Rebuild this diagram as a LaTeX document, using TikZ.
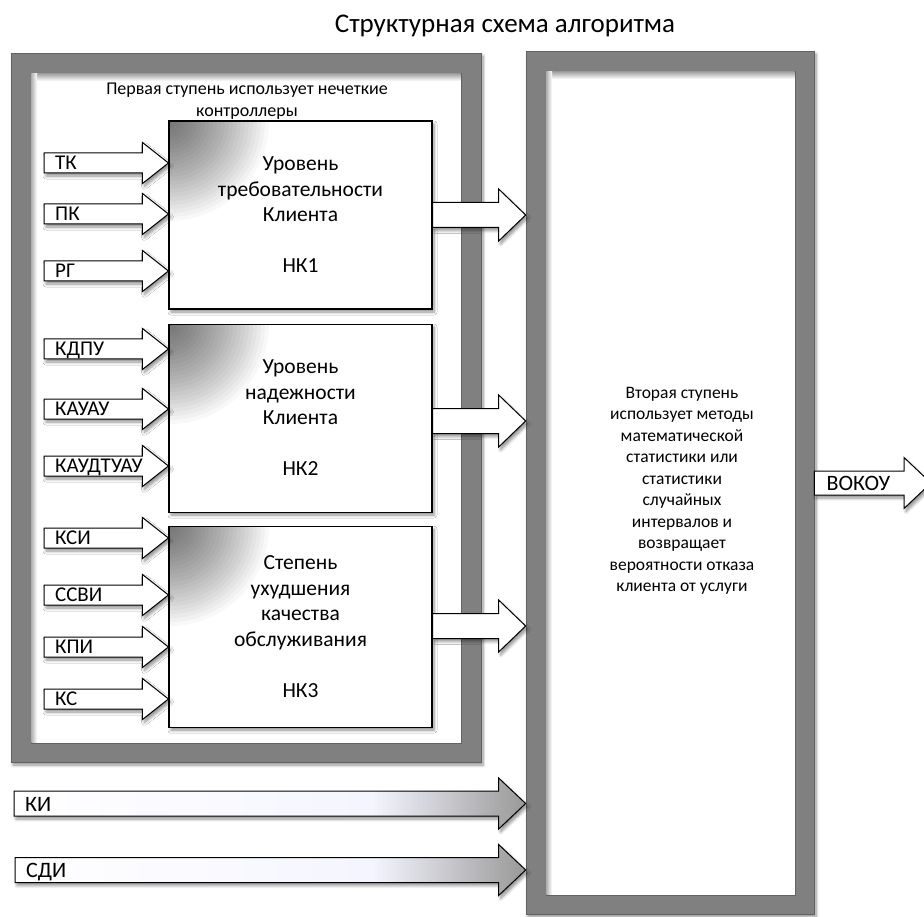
\documentclass[tikz,border=0pt]{standalone}
\usepackage{fontspec}
\setmainfont{Carlito}
\usepackage{tikz}
\usetikzlibrary{positioning,calc,shadows.blur}

\definecolor{framegray}{RGB}{128,128,128}
\definecolor{frameedge}{RGB}{98,98,98}
\pgfdeclarehorizontalshading{headfade}{100bp}{color(0bp)=(white); color(25bp)=(white); color(60bp)=(blue!4!white); color(75bp)=(black!40); color(100bp)=(black!40)}

% block arrow: [style]{from}{to}{shaft half}{head half}{head length}
\newcommand{\fatarrow}[6][]{%
  \path[#1] let \p1=(#2), \p2=(#3) in
    (\x1,\y1+#4pt) -- (\x2-#6pt,\y1+#4pt) -- (\x2-#6pt,\y1+#5pt) -- (\x2,\y1)
    -- (\x2-#6pt,\y1-#5pt) -- (\x2-#6pt,\y1-#4pt) -- (\x1,\y1-#4pt) -- cycle;}

\begin{document}
\begin{tikzpicture}[x=1pt, y=-1pt,
    softshadow/.style={blur shadow={shadow xshift=2pt, shadow yshift=-3pt, shadow blur radius=3pt, shadow blur steps=6, shadow opacity=45}},
    frame/.style={draw=frameedge, line width=0.7pt, fill=framegray, inner sep=0pt, softshadow},
    hole/.style={draw=frameedge, line width=0.7pt, fill=white, inner sep=0pt},
    nkbox/.style={draw=black, line width=1.1pt, fill=white, inner sep=0pt,
      path picture={\foreach \r in {100,96,...,4}
        \fill[black, opacity=0.028] (path picture bounding box.north west) circle (\r pt);},
      minimum width=263pt, align=center, font=\fontsize{21.5}{25.5}\selectfont, softshadow},
    fatarrow/.style={draw=black, line width=1pt, fill=white, softshadow},
    longarrow/.style={fatarrow, shade, shading=headfade},
    lbl/.style={inner sep=0pt, anchor=base west, font=\fontsize{21}{24}\selectfont},
    biglbl/.style={lbl, font=\fontsize{22}{26}\selectfont}]
    \useasboundingbox (0,0) rectangle (924,917);

    % frames of the two stages
    \node[frame, minimum width=470pt, minimum height=709pt] (st1) at (246,407.5) {};
    \node[hole, minimum width=430pt, minimum height=670pt] (st1in) at (246,408) {};
    \node[frame, minimum width=288pt, minimum height=863pt] (st2) at (670,482.5) {};
    \node[hole, minimum width=249pt, minimum height=824pt] (st2in) at (670.5,483) {};
    \shade[top color=black!38, bottom color=white] (31.4,73.4) rectangle (460.6,81);
    \shade[left color=black!30, right color=white] (31.4,73.4) rectangle (37,742.6);
    \shade[top color=black!38, bottom color=white] (546.4,71.4) rectangle (794.6,79);
    \shade[left color=black!30, right color=white] (546.4,71.4) rectangle (552,894.6);

    \node[font=\fontsize{27}{32}\selectfont, anchor=base] (title) at (505,33) {Структурная схема алгоритма};
    \node[font=\fontsize{18}{22}\selectfont, align=center] (st1cap) at (247,101.5) {Первая ступень использует нечеткие\\контроллеры};
    \node[font=\fontsize{17.5}{21.5}\selectfont, align=center] (st2txt) at (682,491) {Вторая ступень\\использует методы\\математической\\статистики или\\статистики\\случайных\\интервалов и\\возвращает\\вероятности отказа\\клиента от услуги};

    % fuzzy controllers
    \node[nkbox, minimum height=188pt] (nk1) at (300.5,215) {Уровень\\требовательности\\Клиента\\\\НК1};
    \node[nkbox, minimum height=188pt, below=14pt of nk1] (nk2) {Уровень\\надежности\\Клиента\\\\НК2};
    \node[nkbox, minimum height=201pt, below=13pt of nk2] (nk3) {Степень\\ухудшения\\качества\\обслуживания\\\\НК3};

    % inputs
    \coordinate (tk-s) at (44,163);
    \coordinate (pk-s) at (44,214);
    \coordinate (rg-s) at (44,271);
    \coordinate (kdpu-s) at (44,349);
    \coordinate (kauau-s) at (44,409);
    \coordinate (kaudt-s) at (44,466);
    \coordinate (ksi-s) at (44,538);
    \coordinate (ssvi-s) at (44,595);
    \coordinate (kpi-s) at (44,647);
    \coordinate (ks-s) at (44,699);
    \fatarrow[fatarrow]{tk-s}{nk1.west |- tk-s}{10}{20.5}{26}
    \fatarrow[fatarrow]{pk-s}{nk1.west |- pk-s}{10}{20.5}{26}
    \fatarrow[fatarrow]{rg-s}{nk1.west |- rg-s}{10}{20.5}{26}
    \fatarrow[fatarrow]{kdpu-s}{nk2.west |- kdpu-s}{10}{20.5}{26}
    \fatarrow[fatarrow]{kauau-s}{nk2.west |- kauau-s}{10}{20.5}{26}
    \fatarrow[fatarrow]{kaudt-s}{nk2.west |- kaudt-s}{10}{20.5}{26}
    \fatarrow[fatarrow]{ksi-s}{nk3.west |- ksi-s}{10}{20.5}{26}
    \fatarrow[fatarrow]{ssvi-s}{nk3.west |- ssvi-s}{10}{20.5}{26}
    \fatarrow[fatarrow]{kpi-s}{nk3.west |- kpi-s}{10}{20.5}{26}
    \fatarrow[fatarrow]{ks-s}{nk3.west |- ks-s}{10}{20.5}{26}
    \node[lbl] (tk) at ($(tk-s)+(11,6.5)$) {ТК};
    \node[lbl] (pk) at ($(pk-s)+(11,6.5)$) {ПК};
    \node[lbl] (rg) at ($(rg-s)+(11,6.5)$) {РГ};
    \node[lbl] (kdpu) at ($(kdpu-s)+(11,6.5)$) {КДПУ};
    \node[lbl] (kauau) at ($(kauau-s)+(11,6.5)$) {КАУАУ};
    \node[lbl] (kaudt) at ($(kaudt-s)+(11,6.5)$) {КАУДТУАУ};
    \node[lbl] (ksi) at ($(ksi-s)+(11,6.5)$) {КСИ};
    \node[lbl] (ssvi) at ($(ssvi-s)+(11,6.5)$) {ССВИ};
    \node[lbl] (kpi) at ($(kpi-s)+(11,6.5)$) {КПИ};
    \node[lbl] (ks) at ($(ks-s)+(11,6.5)$) {КС};

    % outputs of the controllers
    \coordinate (out1) at (0,215);
    \coordinate (out2) at (0,421);
    \coordinate (out3) at (0,626);
    \fatarrow[fatarrow]{nk1.east |- out1}{st2.west |- out1}{12.5}{26}{27}
    \fatarrow[fatarrow]{nk2.east |- out2}{st2.west |- out2}{12.5}{26}{27}
    \fatarrow[fatarrow]{nk3.east |- out3}{st2.west |- out3}{12.5}{26}{27}

    % direct inputs of the second stage
    \coordinate (ki-s) at (14,803.5);
    \coordinate (sdi-s) at (15,870);
    \fatarrow[longarrow]{ki-s}{st2.west |- ki-s}{12.5}{25.5}{27}
    \fatarrow[longarrow]{sdi-s}{st2.west |- sdi-s}{12.5}{25.5}{27}
    \node[biglbl] (ki) at ($(ki-s)+(11,7.5)$) {КИ};
    \node[biglbl] (sdi) at ($(sdi-s)+(11,7.5)$) {СДИ};

    % result
    \coordinate (vokou-e) at (931,483);
    \fatarrow[fatarrow]{st2.east |- vokou-e}{vokou-e}{12}{25.5}{27}
    \node[biglbl] (vokou) at ($(st2.east |- vokou-e)+(12,7.5)$) {ВОКОУ};
  \end{tikzpicture}
\end{document}
